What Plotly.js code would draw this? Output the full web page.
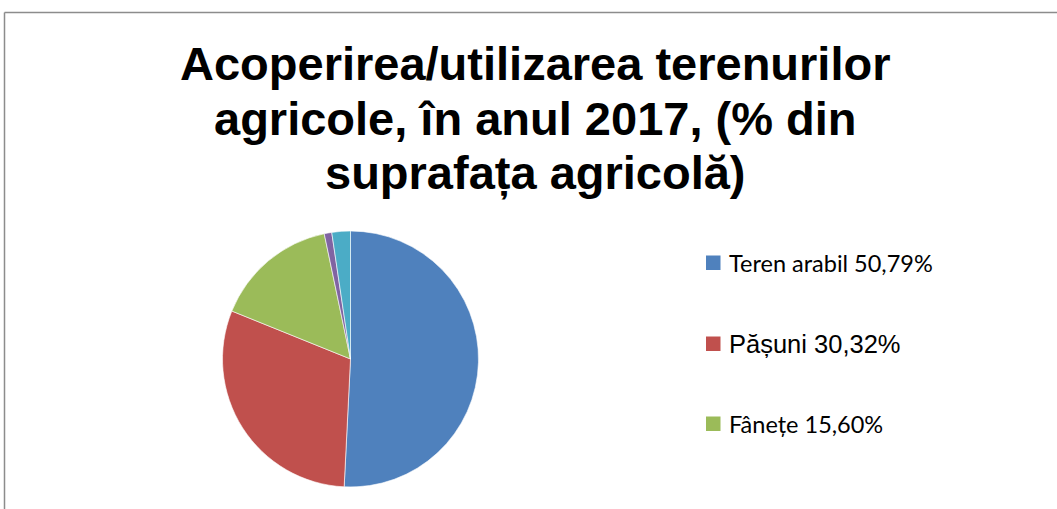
<!DOCTYPE html>
<html>
<head>
<meta charset="utf-8">
<script src="https://cdn.plot.ly/plotly-3.0.1.min.js"></script>
<style>
  html, body { margin: 0; padding: 0; background: #fff; }
  #chart { width: 1057px; height: 509px; }
</style>
</head>
<body>
<div id="chart"></div>
<script>
// ---- data ----
const categories = ["Teren arabil", "Pășuni", "Fânețe", "Vii", "Livezi"];
const shares = [50.79, 30.32, 15.60, 0.95, 2.34];
const legendLabels = ["Teren arabil 50,79%", "Pășuni 30,32%", "Fânețe 15,60%", "Vii 0,95%", "Livezi 2,34%"];
const titleLines = ["Acoperirea/utilizarea terenurilor", "agricole, în anul 2017, (% din", "suprafața agricolă)"];

// ---- styles ----
const colors = ["#4F81BD", "#C0504D", "#9BBB59", "#8064A2", "#4BACC6"];
const W = 1057, H = 509;
const px = x => x / W;
const py = y => 1 - y / H;

// pie geometry (centre ~ (350.5, 359), radius ~128 px)
const cx = 350.5, cy = 359, r = 128;

const trace = {
  type: "pie",
  labels: categories,
  values: shares,
  sort: false,
  direction: "clockwise",
  rotation: 0,
  textinfo: "none",
  hoverinfo: "label+percent",
  marker: { colors: colors, line: { color: "#ffffff", width: 0.6 } },
  domain: { x: [px(cx - r), px(cx + r)], y: [py(cy + r), py(cy - r)] },
  showlegend: false
};

const annotations = [];
const shapes = [];

// title lines
const titleCenters = [63, 118, 173];
titleLines.forEach((t, i) => {
  annotations.push({
    text: "<b>" + t + "</b>", xref: "paper", yref: "paper",
    x: px(535), y: py(titleCenters[i]), xanchor: "center", yanchor: "middle",
    showarrow: false,
    font: { family: "Liberation Sans, Arial, sans-serif", size: 47, color: "#000" }
  });
});

// legend (only the first three entries fit inside the cropped frame)
const legendY = [263, 344, 424];
const legendFonts = [
  { family: "Lato, Carlito, sans-serif", size: 23.5, color: "#000" },
  { family: "Liberation Sans, Arial, sans-serif", size: 25.5, color: "#000" },
  { family: "Lato, Carlito, sans-serif", size: 23.5, color: "#000" }
];
legendY.forEach((yc, i) => {
  shapes.push({
    type: "rect", xref: "paper", yref: "paper",
    x0: px(706), x1: px(720.5), y0: py(yc + 7), y1: py(yc - 7.5),
    fillcolor: colors[i], line: { width: 0 }
  });
  annotations.push({
    text: legendLabels[i], xref: "paper", yref: "paper",
    x: px(727), y: py(yc), xanchor: "left", yanchor: "middle",
    showarrow: false, font: legendFonts[i]
  });
});

// frame (top and left edges visible)
shapes.push({ type: "line", xref: "paper", yref: "paper", x0: px(4.5), x1: 1, y0: py(12.5), y1: py(12.5), line: { color: "#8c8c8c", width: 1.5 } });
shapes.push({ type: "line", xref: "paper", yref: "paper", x0: px(4.5), x1: px(4.5), y0: 0, y1: py(12.5), line: { color: "#8c8c8c", width: 1.5 } });

const layout = {
  width: W, height: H,
  margin: { l: 0, r: 0, t: 0, b: 0 },
  paper_bgcolor: "#ffffff",
  plot_bgcolor: "#ffffff",
  showlegend: false,
  annotations: annotations,
  shapes: shapes
};

Plotly.newPlot("chart", [trace], layout, { displayModeBar: false, staticPlot: true });
</script>
</body>
</html>
